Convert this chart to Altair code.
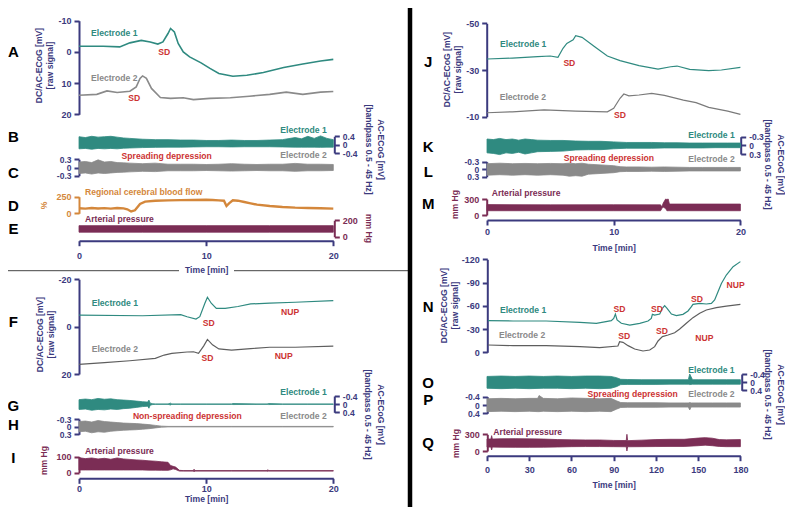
import altair as alt
import pandas as pd

# ---------------- data ----------------
# Panel A (DC, mV)
tA1 = [0, 1.9, 3.2, 4.0, 4.9, 5.6, 6.2, 6.6, 7.0, 7.2, 7.5, 7.8, 8.2, 8.7, 9.6, 10.3, 11.0, 12.1, 13.2, 14.5, 16.1, 17.6, 19.0, 20]
vA1 = [-1.8, -1.8, -1.6, -2.9, -3.7, -3.2, -2.5, -3.2, -5.9, -7.5, -6.4, -2.7, 0.0, 1.6, 3.5, 5.3, 6.9, 7.8, 7.5, 6.6, 5.0, 3.9, 2.9, 2.4]
tA2 = [0, 1.4, 2.2, 3.0, 4.0, 4.5, 4.8, 5.0, 5.3, 5.7, 6.4, 7.2, 8.2, 9.0, 10.3, 11.9, 13.4, 15.0, 16.3, 17.6, 19.0, 20]
vA2 = [13.9, 13.6, 12.5, 13.0, 12.6, 11.2, 8.5, 7.7, 8.5, 11.7, 14.6, 14.9, 14.7, 15.3, 14.9, 14.7, 14.2, 13.6, 12.9, 13.6, 12.9, 12.7]
# Panel B / C (AC envelopes, mV)
tB = [0, 0.5, 1, 1.5, 2, 2.5, 3, 3.5, 4, 5, 6, 7, 8, 9, 10, 11, 12, 13, 14, 15, 16, 17, 17.5, 18, 18.5, 19, 19.5, 20]
hiB = [0.38, 0.34, 0.40, 0.36, 0.38, 0.40, 0.36, 0.32, 0.30, 0.26, 0.24, 0.24, 0.22, 0.22, 0.20, 0.20, 0.22, 0.20, 0.20, 0.22, 0.24, 0.34, 0.28, 0.40, 0.30, 0.42, 0.30, 0.24]
loB = [-0.20, -0.18, -0.22, -0.18, -0.20, -0.18, -0.20, -0.17, -0.16, -0.14, -0.13, -0.12, -0.12, -0.11, -0.10, -0.10, -0.11, -0.10, -0.10, -0.10, -0.11, -0.12, -0.12, -0.12, -0.12, -0.13, -0.12, -0.12]
tC = [0, 0.5, 1, 1.5, 2, 2.5, 3, 3.5, 4, 5, 6, 7, 8, 9, 10, 11, 12, 13, 14, 15, 16, 17, 18, 19, 20]
hiC = [0.20, 0.22, 0.18, 0.28, 0.20, 0.22, 0.18, 0.17, 0.16, 0.14, 0.16, 0.12, 0.12, 0.12, 0.11, 0.12, 0.14, 0.12, 0.11, 0.12, 0.12, 0.15, 0.12, 0.12, 0.11]
loC = [-0.22, -0.20, -0.24, -0.20, -0.22, -0.20, -0.18, -0.17, -0.16, -0.14, -0.15, -0.12, -0.12, -0.12, -0.11, -0.12, -0.13, -0.12, -0.11, -0.12, -0.12, -0.14, -0.12, -0.12, -0.11]
# Panel D (rCBF, %)
tD = [0, 0.5, 1, 1.5, 2, 2.5, 3, 3.5, 3.8, 4.1, 4.4, 4.8, 5.2, 6, 7, 8, 9, 10, 10.5, 11, 11.4, 11.6, 11.8, 12.1, 12.5, 13, 13.5, 14, 15, 16, 17, 18, 19, 20]
vD = [75, 70, 80, 72, 78, 70, 80, 75, 60, 28, 45, 140, 175, 190, 195, 198, 200, 205, 200, 195, 190, 110, 150, 195, 190, 170, 150, 130, 110, 95, 85, 80, 75, 70]
# Panel E (arterial pressure, mm Hg)
tE = [0, 5, 10, 15, 20]
hiE = [135, 135, 135, 135, 135]
loE = [55, 55, 55, 55, 55]
# Panel F
tF1 = [0, 5, 8, 8.5, 9.2, 9.5, 9.9, 10.1, 10.4, 10.8, 11.5, 12.5, 13.5, 15, 17, 20]
vF1 = [-4.9, -4.6, -5.1, -4.2, -3.2, -4.2, -9.9, -12.4, -9.9, -7.7, -7.7, -8.5, -9.6, -9.9, -10.3, -11.0]
tF2 = [0, 2, 4, 6, 6.7, 7.3, 8.5, 9, 9.4, 9.8, 10.1, 10.5, 11, 12, 13.5, 15, 17, 20]
vF2 = [15.9, 15.2, 14.4, 13.4, 12.0, 11.3, 10.7, 10.6, 11.3, 8.2, 5.4, 7.7, 9.4, 9.9, 9.3, 8.7, 8.7, 8.2]
# Panel G / H
tG = [0, 0.5, 1, 1.5, 2, 2.5, 3, 3.5, 4, 4.5, 5, 5.4, 5.5, 5.6, 5.8, 6, 7, 7.2, 7.3, 8, 10, 12, 12.1, 14, 14.8, 14.9, 16, 18, 20]
loG = [-0.22, -0.25, -0.22, -0.28, -0.24, -0.26, -0.22, -0.20, -0.18, -0.15, -0.12, -0.10, -0.20, -0.05, -0.02, -0.01, -0.01, -0.05, -0.01, -0.01, -0.01, -0.01, -0.03, -0.01, -0.01, -0.03, -0.01, -0.01, -0.01]
hiG = [0.26, 0.24, 0.30, 0.26, 0.28, 0.24, 0.26, 0.22, 0.20, 0.16, 0.12, 0.10, 0.20, 0.05, 0.02, 0.01, 0.01, 0.04, 0.01, 0.01, 0.01, 0.01, 0.02, 0.01, 0.01, 0.02, 0.01, 0.01, 0.01]
tH = [0, 0.5, 1, 1.5, 2, 2.5, 3, 3.5, 4, 4.5, 5, 5.5, 6, 6.5, 7, 8, 10, 12, 14, 16, 18, 20]
loH = [-0.20, -0.22, -0.18, -0.24, -0.20, -0.18, -0.16, -0.14, -0.13, -0.12, -0.10, -0.08, -0.05, -0.02, -0.01, -0.01, -0.01, -0.01, -0.01, -0.01, -0.01, -0.01]
hiH = [0.20, 0.18, 0.24, 0.20, 0.22, 0.18, 0.16, 0.14, 0.13, 0.12, 0.10, 0.08, 0.05, 0.02, 0.01, 0.01, 0.01, 0.01, 0.01, 0.01, 0.01, 0.01]
# Panel I
tI = [0, 0.5, 1, 1.5, 2, 2.5, 3, 3.5, 4, 4.5, 5, 5.5, 6, 6.5, 7, 7.2, 7.4, 7.6, 7.9, 8.2, 9, 9.05, 9.1, 12, 14.8, 14.85, 14.9, 20]
hiI = [94, 88, 92, 86, 90, 84, 92, 86, 83, 80, 78, 74, 72, 68, 65, 45, 40, 35, 15, 13, 13, 22, 13, 13, 13, 19, 13, 13]
loI = [17, 17, 17, 17, 17, 17, 17, 17, 17, 17, 17, 16, 16, 15, 15, 18, 24, 20, 10, 10, 10, 5, 10, 10, 10, 8, 10, 10]
# Panel J
tJ1 = [0, 2, 4, 5, 5.6, 6, 6.3, 6.8, 7, 7.5, 8.5, 9.5, 10.5, 12, 13.5, 14.5, 15, 16, 17.5, 18.5, 20]
vJ1 = [-34.7, -35.1, -35.7, -36.0, -35.4, -39.3, -41.4, -42.9, -44.7, -44.0, -40.0, -36.0, -34.0, -31.9, -30.4, -31.4, -31.7, -30.3, -29.7, -30.0, -31.1]
tJ2 = [0, 2, 4.5, 7, 9.5, 10, 10.5, 10.8, 11.2, 12, 13, 14, 15.5, 16.5, 17.5, 19, 20]
vJ2 = [-11.7, -12.1, -12.9, -12.4, -12.1, -13.6, -17.9, -19.7, -18.9, -19.3, -20.0, -19.1, -17.1, -16.0, -14.0, -12.4, -11.0]
# Panel K / L
tK = [0, 0.5, 1, 1.5, 2, 2.5, 3, 3.5, 4, 5, 6, 7, 8, 9, 10, 11, 12, 13, 14, 15, 16, 17, 18, 19, 20]
loK = [-0.22, -0.20, -0.24, -0.20, -0.22, -0.18, -0.22, -0.20, -0.18, -0.17, -0.17, -0.15, -0.14, -0.14, -0.12, -0.10, -0.10, -0.10, -0.09, -0.09, -0.08, -0.08, -0.08, -0.08, -0.08]
hiK = [0.26, 0.28, 0.32, 0.26, 0.28, 0.24, 0.30, 0.26, 0.22, 0.21, 0.20, 0.16, 0.15, 0.15, 0.12, 0.10, 0.10, 0.10, 0.09, 0.09, 0.09, 0.09, 0.08, 0.08, 0.08]
tL = [0, 1, 2, 3, 4, 5, 6, 6.5, 7, 7.5, 8, 9, 10, 10.5, 11, 12, 13, 14, 15, 16, 17, 18, 19, 20]
loL = [-0.22, -0.24, -0.22, -0.23, -0.22, -0.23, -0.22, -0.24, -0.22, -0.24, -0.20, -0.17, -0.14, -0.10, -0.09, -0.09, -0.08, -0.09, -0.08, -0.07, -0.07, -0.07, -0.07, -0.07]
hiL = [0.24, 0.22, 0.24, 0.22, 0.24, 0.22, 0.24, 0.28, 0.26, 0.28, 0.20, 0.17, 0.14, 0.10, 0.09, 0.09, 0.08, 0.09, 0.08, 0.07, 0.07, 0.07, 0.07, 0.07]
# Panel M
tM = [0, 5, 10, 13.7, 13.8, 13.9, 14.1, 14.2, 14.3, 14.4, 20]
hiM = [195, 190, 192, 190, 150, 220, 300, 290, 300, 205, 205]
loM = [80, 80, 80, 80, 120, 150, 120, 80, 80, 80, 80]
# Panel N
tN1 = [0.7, 18.5, 42, 66, 77.7, 88.3, 90, 91.2, 92.4, 95.4, 101.4, 108.5, 114.4, 116.7, 117.5, 119.1, 122.7, 124.6, 126.2, 127.9, 131, 134.5, 139.2, 142.8, 145.2, 146.3, 151.1, 155.8, 159.4, 161.7, 164.1, 166.5, 170, 174.8, 180]
vN1 = [-40.8, -40.4, -40.4, -38.7, -37.4, -40.8, -43.8, -49.4, -41.7, -37.4, -35.2, -37.4, -40.4, -43.8, -49.0, -48.1, -49.4, -56.7, -60.2, -56.7, -49.4, -47.3, -49.0, -53.3, -58.9, -61.9, -63.2, -62.3, -63.2, -67.5, -78.2, -88.9, -99.7, -110.5, -117.0]
tN2 = [0.7, 18.5, 42, 66, 80, 93, 94.2, 96.6, 100.2, 104.9, 110.8, 115.6, 119.1, 121.5, 124.6, 128.6, 133.3, 136.9, 141.6, 146.3, 151.1, 155.8, 162.9, 170, 180]
vN2 = [-9.4, -8.6, -8.6, -7.3, -6.0, -8.1, -13.7, -12.9, -8.6, -4.3, -1.7, -3.0, -7.3, -14.6, -20.2, -22.3, -25.3, -30.1, -37.4, -44.7, -50.3, -54.6, -57.6, -59.7, -61.9]
# Panel O / P
tO = [0, 10, 20, 30, 40, 50, 60, 70, 80, 88, 92, 95, 100, 110, 120, 130, 140, 143, 144, 146, 150, 160, 170, 180]
loO = [-0.28, -0.30, -0.28, -0.30, -0.28, -0.30, -0.28, -0.30, -0.30, -0.28, -0.22, -0.14, -0.13, -0.12, -0.12, -0.12, -0.12, -0.12, -0.40, -0.12, -0.12, -0.12, -0.12, -0.12]
hiO = [0.30, 0.32, 0.30, 0.32, 0.30, 0.30, 0.32, 0.30, 0.32, 0.30, 0.22, 0.12, 0.11, 0.11, 0.11, 0.10, 0.10, 0.10, 0.12, 0.10, 0.10, 0.10, 0.10, 0.10]
tP = [0, 10, 20, 30, 36, 37, 40, 50, 60, 70, 80, 88, 92, 95, 100, 110, 120, 130, 140, 143, 144, 145, 150, 160, 170, 180]
loP = [-0.30, -0.32, -0.30, -0.32, -0.32, -0.46, -0.32, -0.30, -0.34, -0.32, -0.30, -0.32, -0.20, -0.12, -0.11, -0.11, -0.11, -0.10, -0.10, -0.10, -0.12, -0.10, -0.10, -0.10, -0.10, -0.10]
hiP = [0.32, 0.30, 0.32, 0.30, 0.32, 0.32, 0.30, 0.32, 0.30, 0.32, 0.30, 0.32, 0.20, 0.12, 0.11, 0.11, 0.11, 0.10, 0.10, 0.10, 0.24, 0.10, 0.10, 0.10, 0.10, 0.10]
# Panel Q
tQ = [0, 2.8, 3.3, 3.8, 10, 20, 30, 40, 50, 60, 70, 80, 90, 98.9, 99.4, 99.9, 100, 110, 120, 130, 140, 150, 155, 160, 165, 170, 180]
hiQ = [215, 215, 276, 215, 220, 222, 218, 215, 205, 200, 198, 198, 190, 188, 300, 188, 186, 195, 205, 210, 210, 232, 240, 230, 205, 200, 205]
loQ = [70, 70, 18, 70, 68, 66, 66, 68, 72, 78, 80, 80, 78, 76, 0, 76, 76, 78, 80, 82, 82, 95, 105, 95, 82, 78, 78]

# tick values
ticks_time20 = [0, 10, 20]
ticks_time180 = [0, 30, 60, 90, 120, 150, 180]

# ---------------- styling ----------------
FONT = "Liberation Sans"
TEAL = "#2f8a80"
GRAYL = "#8a8a8a"
GRAYD = "#5e5e5e"
RED = "#cc3333"
NAVY = "#3b3a7e"
ORANGE = "#d4873b"
MAROON = "#7b2d55"

W, H = 777, 499
LX = [71, 325.3]
RX = [479, 732.4]

PANELS = {
    "A": ([0, 20], LX, [-10, 20], [12.7, 106.3]),
    "B": ([0, 20], LX, [-0.4, 0.4], [145, 128.3]),
    "C": ([0, 20], LX, [-0.3, 0.3], [167.7, 151.3]),
    "D": ([0, 20], LX, [0, 250], [205.3, 188.7]),
    "E": ([0, 20], LX, [0, 200], [228.7, 212.3]),
    "F": ([0, 20], LX, [-20, 20], [271.3, 366]),
    "G": ([0, 20], LX, [-0.4, 0.4], [388, 404.3]),
    "H": ([0, 20], LX, [-0.3, 0.3], [411, 426.3]),
    "I": ([0, 20], LX, [0, 100], [464.7, 448.7]),
    "J": ([0, 20], RX, [-50, -10], [15.3, 108.7]),
    "K": ([0, 20], RX, [-0.3, 0.3], [128.7, 146]),
    "L": ([0, 20], RX, [-0.3, 0.3], [153.7, 168.7]),
    "M": ([0, 20], RX, [0, 300], [207, 191]),
    "N": ([0, 180], RX, [-120, 0], [251.3, 344.3]),
    "O": ([0, 180], RX, [-0.4, 0.4], [366, 382.3]),
    "P": ([0, 180], RX, [-0.4, 0.4], [388.7, 405.3]),
    "Q": ([0, 180], RX, [0, 300], [443, 426.3]),
}

LBL = "'' + datum.value"
DC_TITLE = ["DC/AC-ECoG [mV]", "[raw signal]"]
AC_TITLE = ["AC-ECoG [mV]", "[bandpass 0.5 - 45 Hz]"]


def yaxis_left(x_axis, values, title=None, color=NAVY, titleX=-35, titleY=None, lsize=9):
    kw = dict(orient="left", offset=-x_axis, values=values, labelExpr=LBL,
              labelOverlap=False, labelFlush=False, domainColor=color, labelFontSize=lsize,
              tickColor=color, labelColor=color, titleColor=color)
    if title is not None:
        kw.update(title=title, titleX=titleX, titleAngle=-90, titleBaseline="middle",
                  titleLineHeight=11)
        if titleY is not None:
            kw["titleY"] = titleY
    else:
        kw["title"] = None
    return alt.Axis(**kw)


def yaxis_right(x_axis, values, title=None, color=NAVY, titleX=40, titleY=None, lsize=9):
    kw = dict(orient="right", offset=x_axis - W, values=values, labelExpr=LBL,
              labelOverlap=False, labelFlush=False, domainColor=color, labelFontSize=lsize,
              tickColor=color, labelColor=color, titleColor=color)
    if title is not None:
        kw.update(title=title, titleX=titleX, titleAngle=90, titleBaseline="middle",
                  titleLineHeight=12.5)
        if titleY is not None:
            kw["titleY"] = titleY
    else:
        kw["title"] = None
    return alt.Axis(**kw)


def xaxis_bottom(y_axis, values, lp, tp):
    return alt.Axis(orient="bottom", offset=y_axis - H, values=values, labelExpr=LBL,
                    labelOverlap=False, labelFlush=False, title="Time [min]",
                    labelPadding=lp, titlePadding=tp)


def enc(panel, xaxis=None, yaxis=None, yfield="v"):
    xd, xr, yd, yr = PANELS[panel]
    return dict(
        x=alt.X("t:Q", scale=alt.Scale(domain=xd, range=xr, nice=False, zero=False), axis=xaxis),
        y=alt.Y(f"{yfield}:Q", scale=alt.Scale(domain=yd, range=yr, nice=False, zero=False), axis=yaxis),
    )


def line(panel, t, v, color, width, xaxis=None, yaxis=None):
    df = pd.DataFrame({"t": t, "v": v})
    return alt.Chart(df).mark_line(color=color, strokeWidth=width).encode(**enc(panel, xaxis, yaxis))


def band(panel, t, lo, hi, color, xaxis=None, yaxis=None):
    df = pd.DataFrame({"t": t, "lo": lo, "hi": hi})
    e = enc(panel, xaxis, yaxis, yfield="lo")
    return alt.Chart(df).mark_area(color=color, stroke=color, strokeWidth=0.8, opacity=1).encode(
        y2="hi:Q", **e)


def texts(panel, rows, color, align="left", size=8.6):
    df = pd.DataFrame(rows, columns=["txt", "t", "v"])
    return alt.Chart(df).mark_text(color=color, align=align, baseline="middle", font=FONT,
                                   fontWeight="bold", fontSize=size).encode(
        text="txt:N", **enc(panel))


# panel letters, anchored in each panel's own units
letters = {
    "A": (-5.16, 0), "B": (-5.16, 0.35), "C": (-5.16, -0.19), "D": (-5.16, 110), "E": (-5.16, 97.6),
    "F": (-5.16, -1.84), "G": (-5.16, 0.09), "H": (-5.16, -0.05), "I": (-5.16, 90),
    "J": (-4.64, -33.3), "K": (-4.64, 0.047), "L": (-4.64, 0.124), "M": (-4.64, 206),
    "N": (-41.8, -58), "O": (-41.8, 0.027), "P": (-41.8, -0.24), "Q": (-41.8, 149),
}

layers = []

# ---- top-left block (A-E)
layers.append(line("A", tA1, vA1, TEAL, 1.6,
                   yaxis=yaxis_left(71, [-10, 0, 10, 20], DC_TITLE, titleX=-41, titleY=57)))
layers.append(line("A", tA2, vA2, GRAYL, 1.6))
layers.append(band("B", tB, loB, hiB, TEAL,
                   yaxis=yaxis_right(326.3, [0.4, 0, -0.4], AC_TITLE, titleX=46.5, titleY=141, lsize=8.5)))
layers.append(band("C", tC, loC, hiC, GRAYL, yaxis=yaxis_left(71, [0.3, 0, -0.3], lsize=8.5)))
layers.append(line("D", tD, vD, ORANGE, 2.4,
                   yaxis=yaxis_left(71, [250, 0], "%", color=ORANGE, titleX=-36, titleY=197)))
layers.append(band("E", tE, loE, hiE, MAROON,
                   xaxis=xaxis_bottom(232.7, ticks_time20, 6, 5),
                   yaxis=yaxis_right(326.3, [200, 0], "mm Hg", color=MAROON, titleX=34, titleY=220)))

# ---- bottom-left block (F-I)
layers.append(line("F", tF1, vF1, TEAL, 1.2,
                   yaxis=yaxis_left(71, [-20, 0, 20], DC_TITLE, titleX=-40, titleY=326)))
layers.append(line("F", tF2, vF2, GRAYD, 1.2))
layers.append(band("G", tG, loG, hiG, TEAL,
                   yaxis=yaxis_right(326.3, [-0.4, 0, 0.4], AC_TITLE, titleX=46, titleY=406, lsize=8.5)))
layers.append(band("H", tH, loH, hiH, GRAYL, yaxis=yaxis_left(71, [-0.3, 0, 0.3], lsize=8.5)))
layers.append(band("I", tI, loI, hiI, MAROON,
                   xaxis=xaxis_bottom(470.3, ticks_time20, 1, 1),
                   yaxis=yaxis_left(71, [100, 0], "mm Hg", color=MAROON, titleX=-36, titleY=452)))

# ---- top-right block (J-M)
layers.append(line("J", tJ1, vJ1, TEAL, 1.2,
                   yaxis=yaxis_left(478.7, [-50, -30, -10], DC_TITLE, titleX=-40, titleY=61)))
layers.append(line("J", tJ2, vJ2, "#7a7a7a", 1.2))
layers.append(band("K", tK, loK, hiK, TEAL,
                   yaxis=yaxis_right(732.7, [-0.3, 0, 0.3], AC_TITLE, titleX=39.5, titleY=156, lsize=8.5)))
layers.append(band("L", tL, loL, hiL, GRAYL, yaxis=yaxis_left(478.7, [-0.3, 0, 0.3], lsize=8.5)))
layers.append(band("M", tM, loM, hiM, MAROON,
                   xaxis=xaxis_bottom(212, ticks_time20, 2, 7),
                   yaxis=yaxis_left(478.7, [300, 0], "mm Hg", color=MAROON, titleX=-32, titleY=196)))

# ---- bottom-right block (N-Q)
layers.append(line("N", tN1, vN1, TEAL, 1.2,
                   yaxis=yaxis_left(479.3, [-120, -90, -60, -30, 0], DC_TITLE, titleX=-44, titleY=297)))
layers.append(line("N", tN2, vN2, GRAYD, 1.2))
layers.append(band("O", tO, loO, hiO, TEAL,
                   yaxis=yaxis_right(733.7, [-0.4, 0, 0.4], AC_TITLE, titleX=38.5, titleY=386, lsize=8.5)))
layers.append(band("P", tP, loP, hiP, GRAYL, yaxis=yaxis_left(479.3, [-0.4, 0, 0.4], lsize=8.5)))
layers.append(band("Q", tQ, loQ, hiQ, MAROON,
                   xaxis=xaxis_bottom(447.7, ticks_time180, 5, 6),
                   yaxis=yaxis_left(479.3, [300, 0], "mm Hg", color=MAROON, titleX=-32, titleY=435)))

# ---- annotations
layers += [
    texts("A", [("Electrode 1", 0.95, -5.9)], TEAL),
    texts("A", [("Electrode 2", 0.95, 8.5)], GRAYL),
    texts("A", [("SD", 6.7, 0.0), ("SD", 4.35, 14.9)], RED, "center"),
    texts("B", [("Electrode 1", 19.48, 0.70)], TEAL, "right"),
    texts("B", [("Electrode 2", 19.48, -0.51)], GRAYL, "right"),
    texts("B", [("Spreading depression", 6.9, -0.54)], RED, "center"),
    texts("D", [("Regional cerebral blood flow", 0.47, 316)], ORANGE),
    texts("E", [("Arterial pressure", 0.47, 216)], MAROON),
    texts("F", [("Electrode 1", 1.0, -9.9)], TEAL),
    texts("F", [("Electrode 2", 1.0, 9.4)], GRAYL),
    texts("F", [("SD", 10.2, -1.4), ("NUP", 16.6, -6.0), ("SD", 10.1, 13.4), ("NUP", 16.1, 12.4)], RED, "center"),
    texts("G", [("Electrode 1", 19.48, -0.61)], TEAL, "right"),
    texts("G", [("Electrode 2", 19.48, 0.57)], GRAYL, "right"),
    texts("G", [("Non-spreading depression", 8.52, 0.57)], RED, "center"),
    texts("I", [("Arterial pressure", 0.47, 136)], MAROON),
    texts("J", [("Electrode 1", 1.03, -41)], TEAL),
    texts("J", [("Electrode 2", 1.0, -18.6)], GRAYL),
    texts("J", [("SD", 6.5, -32.9), ("SD", 10.5, -10.7)], RED, "center"),
    texts("K", [("Electrode 1", 19.55, -0.37)], TEAL, "right"),
    texts("K", [("Electrode 2", 19.55, 0.46)], GRAYL, "right"),
    texts("K", [("Spreading depression", 9.62, 0.44)], RED, "center"),
    texts("M", [("Arterial pressure", 0.37, 407)], MAROON),
    texts("N", [("Electrode 1", 9.2, -54.4)], TEAL),
    texts("N", [("Electrode 2", 8.5, -22.3)], GRAYL),
    texts("N", [("SD", 94.1, -55.7), ("SD", 120.7, -55.7), ("SD", 149.2, -69.4), ("NUP", 176.6, -86.6),
                ("SD", 97.5, -21.4), ("SD", 124.3, -27.4), ("NUP", 154.4, -18)], RED, "center"),
    texts("O", [("Electrode 1", 175.9, -0.6)], TEAL, "right"),
    texts("O", [("Electrode 2", 175.9, 0.6)], GRAYL, "right"),
    texts("O", [("Spreading depression", 103.5, 0.6)], RED, "center"),
    texts("Q", [("Arterial pressure", 4.5, 346)], MAROON),
]
for k, (lt, lv) in letters.items():
    layers.append(texts(k, [(k, lt, lv)], "black", "center", 15))

# ---- separators (figure decoration)
one = pd.DataFrame({"a": [0]})
layers.append(alt.Chart(one).mark_rule(color="#444444", strokeWidth=1).encode(
    x=alt.value(0), x2=alt.value(171), y=alt.value(262.7)))
layers.append(alt.Chart(one).mark_rule(color="#444444", strokeWidth=1).encode(
    x=alt.value(226), x2=alt.value(400), y=alt.value(262.7)))
layers.append(alt.Chart(one).mark_rule(color="black", strokeWidth=4.5).encode(
    x=alt.value(402), y=alt.value(0), y2=alt.value(H)))

chart = (
    alt.layer(*layers)
    .resolve_scale(x="independent", y="independent")
    .resolve_axis(x="independent", y="independent")
    .properties(width=W, height=H, padding=0, autosize=alt.AutoSizeParams(type="none"))
    .configure_view(stroke=None)
    .configure_axis(grid=False, labelFont=FONT, titleFont=FONT, labelFontWeight="bold",
                    titleFontWeight="bold", labelFontSize=9, titleFontSize=8.6,
                    domainColor=NAVY, tickColor=NAVY, labelColor=NAVY, titleColor=NAVY,
                    domainWidth=2, tickWidth=2, tickSize=5, labelPadding=3)
)

chart.save("out.html", embed_options={"renderer": "svg", "actions": False})
